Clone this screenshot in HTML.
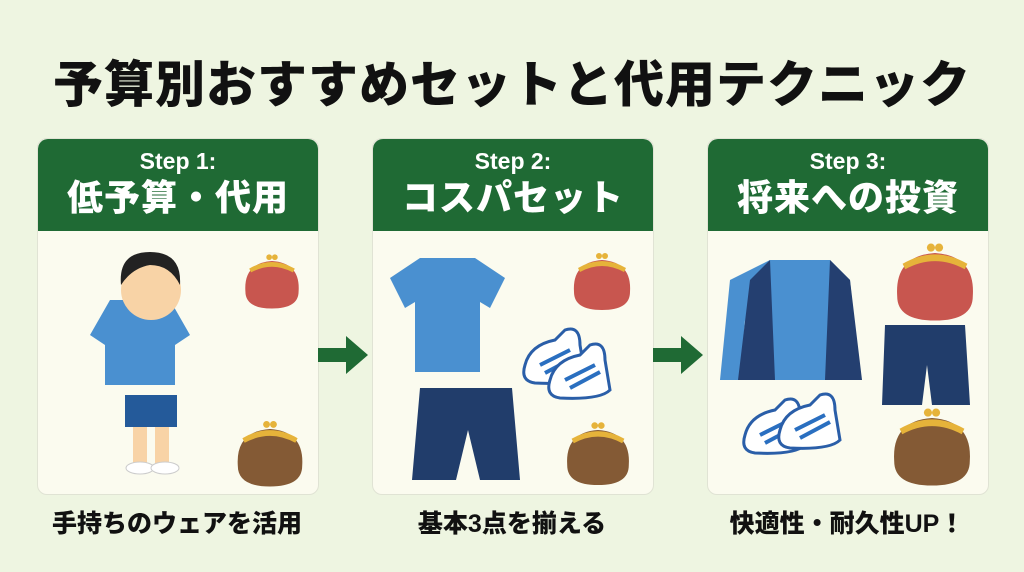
<!DOCTYPE html>
<html><head><meta charset="utf-8"><style>
body{margin:0;width:1024px;height:572px;background:#eef5e1;position:relative;overflow:hidden;font-family:"Liberation Sans","Noto Sans CJK JP",sans-serif}
.t{position:absolute;left:0;width:1024px;top:55px;line-height:60px;text-align:center;font-size:50px;font-weight:900;color:#111;letter-spacing:1px}
.p{position:absolute;top:138px;width:280px;height:355px;background:#fbfbef;border:1px solid #e0e3d4;border-radius:10px;overflow:hidden}
.h{position:absolute;left:0;top:0;width:100%;height:92px;background:#1f6a34;border-radius:10px 10px 0 0;color:#fff;text-align:center;font-weight:900}
.h .a{font-size:23px;margin-top:8px;line-height:28px}
.h .b{font-size:36px;line-height:46px;letter-spacing:1px}
.c{position:absolute;top:506px;width:280px;text-align:center;font-size:25px;line-height:36px;font-weight:900;color:#111}
svg{position:absolute}
</style></head><body>
<div class="t">予算別おすすめセットと代用テクニック</div>
<div class="p" style="left:37px"><div class="h"><div class="a">Step 1:</div><div class="b">低予算・代用</div></div></div>
<div class="p" style="left:372px"><div class="h"><div class="a">Step 2:</div><div class="b">コスパセット</div></div></div>
<div class="p" style="left:707px"><div class="h"><div class="a">Step 3:</div><div class="b">将来への投資</div></div></div>
<div class="c" style="left:37px">手持ちのウェアを活用</div>
<div class="c" style="left:372px">基本3点を揃える</div>
<div class="c" style="left:707px">快適性・耐久性UP！</div>
<svg width="1024" height="572" style="left:0;top:0">
<defs>
<g id="pr"><path d="M-28,12 Q-30,-18 0,-20 Q30,-18 28,12 Q28,30 0,30 Q-28,30 -28,12Z"/><path d="M-24,-12 Q0,-26 24,-12 L22,-8 Q0,-20 -22,-8Z" fill="#e6b33a"/><circle cx="-3" cy="-24" r="3" fill="#e6b33a"/><circle cx="3" cy="-24" r="3" fill="#e6b33a"/></g>
<g id="sh"><path d="M0,20 Q5,0 30,-5 L40,-15 Q55,-20 55,0 L60,30 Q50,40 10,38 Q-5,36 0,20Z" fill="#fff" stroke="#2a5ea8" stroke-width="3"/><path d="M15,20 L45,5 M20,28 L50,12" stroke="#2a6fc0" stroke-width="4"/></g>
</defs>
<path d="M318,348 h28 v-12 l22,19 -22,19 v-12 h-28z" fill="#1f6a34"/>
<path d="M653,348 h28 v-12 l22,19 -22,19 v-12 h-28z" fill="#1f6a34"/>
<use href="#pr" transform="translate(272,280) scale(0.95)" fill="#c8564f"/>
<use href="#pr" transform="translate(270,452) scale(1.15)" fill="#845a35"/>
<use href="#pr" transform="translate(602,280)" fill="#c8564f"/>
<use href="#pr" transform="translate(598,452) scale(1.1)" fill="#845a35"/>
<use href="#pr" transform="translate(935,280) scale(1.35)" fill="#c8564f"/>
<use href="#pr" transform="translate(932,445) scale(1.35)" fill="#845a35"/>
<path d="M110,300 h60 l20,35 -15,10 v40 h-70 v-40 l-15,-10z" fill="#4a90d0"/>
<rect x="125" y="395" width="52" height="32" fill="#245a9a"/>
<rect x="133" y="427" width="14" height="38" fill="#f8d3a6"/><rect x="155" y="427" width="14" height="38" fill="#f8d3a6"/>
<ellipse cx="140" cy="468" rx="14" ry="6" fill="#fff" stroke="#ccc"/><ellipse cx="165" cy="468" rx="14" ry="6" fill="#fff" stroke="#ccc"/>
<circle cx="151" cy="290" r="30" fill="#f8d3a6"/><path d="M121,285 Q118,252 150,252 Q182,252 180,285 Q170,265 150,265 Q132,268 121,285Z" fill="#222"/>
<path d="M420,258 h55 l30,20 -15,30 -10,-6 v70 h-65 v-70 l-10,6 -15,-30z" fill="#4a90d0"/>
<path d="M420,388 h92 l8,92 h-40 l-12,-50 -12,50 h-44z" fill="#213d6b"/>
<use href="#sh" transform="translate(525,345)"/><use href="#sh" transform="translate(550,360)"/>
<path d="M770,260 h60 l20,20 10,100 h-20 l-5,-60 v60 h-90 v-60 l-5,60 h-20 l10,-100z" fill="#4a90d0"/>
<path d="M738,380 l12,-100 20,-20 5,120z M862,380 l-12,-100 -20,-20 -5,120z" fill="#243f70"/>
<path d="M885,325 h80 l5,80 h-38 l-5,-40 -5,40 h-40z" fill="#213d6b"/>
<use href="#sh" transform="translate(745,415)"/><use href="#sh" transform="translate(780,410)"/>
</svg>
</body></html>
